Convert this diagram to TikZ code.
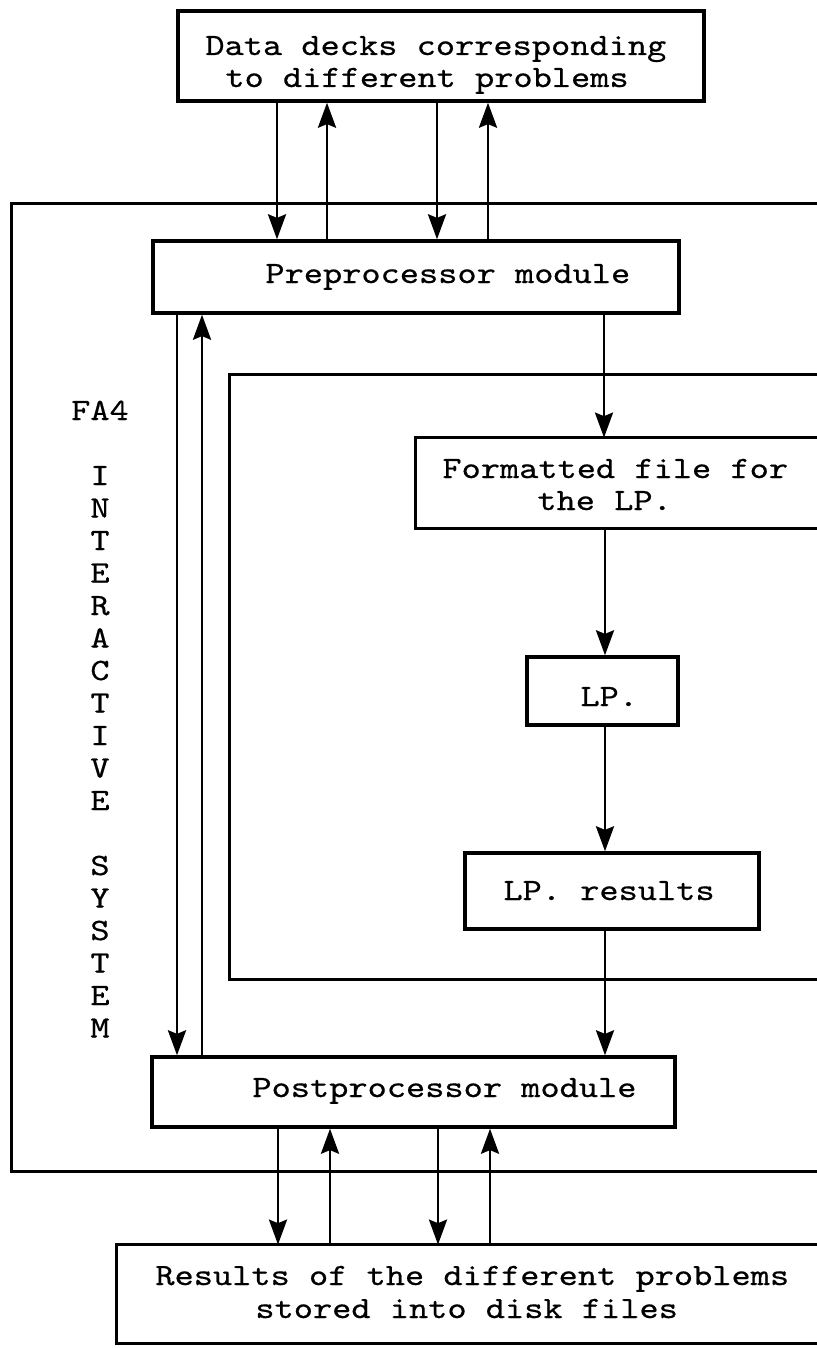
\documentclass[tikz,border=0pt]{standalone}
\usepackage{fontspec}
\usetikzlibrary{arrows.meta,fit}
% typewriter face, widened to a Courier-like pitch
\newfontfamily\twfont{lmmono10-regular}[Extension=.otf, FakeStretch=1.18, FakeBold=0.5]

\begin{document}
\begin{tikzpicture}[x=0.5pt,y=-0.5pt,
  boxline/.style={line width=1.7pt},
  box/.style={draw, boxline, inner sep=0pt},
  frame/.style={inner sep=0pt},
  arr/.style={line width=1.4pt, -{Stealth[length=12.5pt,width=9pt,inset=1.8pt]}},
  lbl/.style={font=\twfont\fontsize{15.5}{16}\selectfont, inner sep=0pt, anchor=base west},
  vlbl/.style={font=\twfont\fontsize{15.5}{16}\selectfont, inner sep=0pt, anchor=base}]

\useasboundingbox (0,0) rectangle (817,1348);
\clip (0,0) rectangle (817,1348);

% closed boxes
\node[box, fit={(178,11) (704,101)}] (data) {};
\node[box, fit={(153,241) (679,313)}] (pre) {};
\node[box, fit={(527,657) (678,725)}] (lp) {};
\node[box, fit={(465,853) (759,929)}] (lpres) {};
\node[box, fit={(152,1057) (675,1127)}] (post) {};

% frames and boxes that run off the right edge
\node[frame, fit={(12,204) (840,1171)}] (outer) {};
\node[frame, fit={(230,375) (840,979)}] (inner) {};
\node[frame, fit={(416,438) (840,528)}] (fmt) {};
\node[frame, fit={(117,1245) (840,1343)}] (res) {};
\foreach \f in {outer,inner,fmt,res}
  \draw[boxline] (\f.north east) -- (\f.north west) -- (\f.south west) -- (\f.south east);

% texts
\node[lbl] (dataA) at (205,55) {Data decks corresponding};
\node[lbl] (dataB) at (225,87) {to different problems};
\node[lbl] (preT) at (265,283) {Preprocessor module};
\node[lbl] (fmtA) at (442,478) {Formatted file for};
\node[lbl] (fmtB) at (537,510) {the LP.};
\node[lbl] (lpT) at (580,706) {LP.};
\node[lbl] (lpresT) at (503,900) {LP. results};
\node[lbl] (postT) at (252,1097) {Postprocessor module};
\node[lbl] (resA) at (155,1285) {Results of the different problems};
\node[lbl] (resB) at (255,1318) {stored into disk files};

% vertical system name
\node[vlbl] (fa4) at (100,420) {FA4};
\foreach \ch/\k in {I/0,N/1,T/2,E/3,R/4,A/5,C/6,T/7,I/8,V/9,E/10,
                    S/12,Y/13,S/14,T/15,E/16,M/17}
  \node[vlbl] (v\k) at (100,{485+32.5*\k}) {\ch};

% connector columns
\coordinate (ta) at (277,0);  \coordinate (tb) at (327,0);
\coordinate (tc) at (437,0);  \coordinate (td) at (488,0);
\coordinate (la) at (177,0);  \coordinate (lb) at (202,0);
\coordinate (ca) at (604,0);  \coordinate (cb) at (605,0);
\coordinate (ba) at (278,0);  \coordinate (bb) at (330,0);
\coordinate (bc) at (438,0);  \coordinate (bd) at (490,0);

% data decks <-> preprocessor
\draw[arr] (ta |- data.south) -- (ta |- pre.north);
\draw[arr] (tb |- pre.north) -- (tb |- data.south);
\draw[arr] (tc |- data.south) -- (tc |- pre.north);
\draw[arr] (td |- pre.north) -- (td |- data.south);

% preprocessor <-> postprocessor
\draw[arr] (la |- pre.south) -- (la |- post.north);
\draw[arr] (lb |- post.north) -- (lb |- pre.south);

% LP chain
\draw[arr] (ca |- pre.south) -- (ca |- fmt.north);
\draw[arr] (cb |- fmt.south) -- (cb |- lp.north);
\draw[arr] (cb |- lp.south) -- (cb |- lpres.north);
\draw[arr] (cb |- lpres.south) -- (cb |- post.north);

% postprocessor <-> result files
\draw[arr] (ba |- post.south) -- (ba |- res.north);
\draw[arr] (bb |- res.north) -- (bb |- post.south);
\draw[arr] (bc |- post.south) -- (bc |- res.north);
\draw[arr] (bd |- res.north) -- (bd |- post.south);
\end{tikzpicture}
\end{document}
